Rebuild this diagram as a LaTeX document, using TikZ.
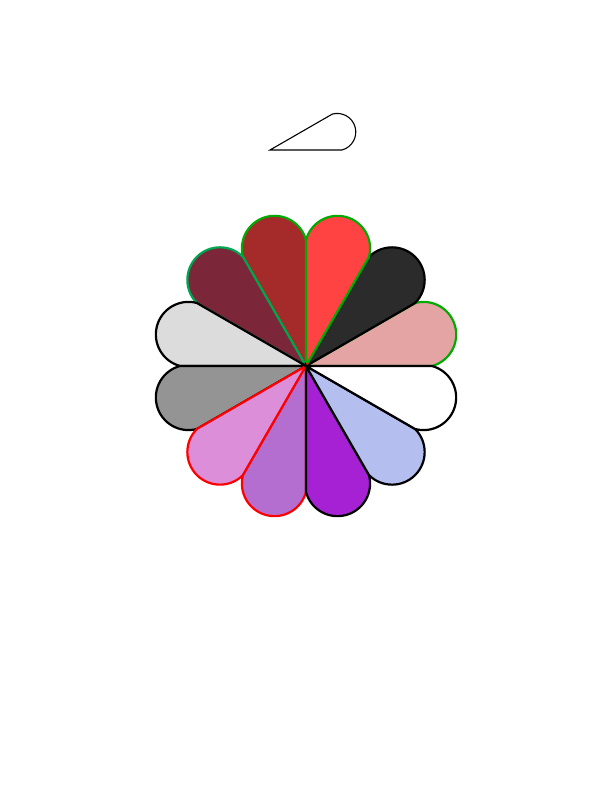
\documentclass[tikz,border=0pt]{standalone}
\usetikzlibrary{calc}
\definecolor{pgreen}{HTML}{00AA00}
\definecolor{tgreen}{HTML}{00A550}
\definecolor{pred}{HTML}{FF0000}
\tikzset{
  petal/.style={line width=2.2pt},
  smallpetal/.style={line width=1.1pt, draw=black},
}
\begin{document}
\begin{tikzpicture}[x=1pt,y=1pt]
\useasboundingbox (0,0) rectangle (612,792);
% small teardrop at the top
\coordinate (tip) at (270,642);
\draw[smallpetal] (tip) -- ++(0:72) arc(-75:105:18.6) -- cycle;
% flower
\coordinate (c) at (306,426);
\foreach \a/\fc/\dc in {
  0/E5A4A4/00AA00,
  30/2B2B2B/000000,
  60/FF4242/00AA00,
  90/A52A2A/00AA00,
  120/7B2639/00A550,
  150/DCDCDC/000000,
  180/949494/000000,
  210/DC8ED8/FF0000,
  240/B46ECF/FF0000,
  270/A620D4/000000,
  300/B4BEEF/000000,
  330/FFFFFF/000000}{
  \definecolor{fillc}{HTML}{\fc}
  \definecolor{drawc}{HTML}{\dc}
  \draw[petal, fill=fillc, draw=drawc] (c) -- ++(\a:126) arc({\a-75}:{\a+105}:32.6) -- cycle;
}
\end{tikzpicture}
\end{document}
